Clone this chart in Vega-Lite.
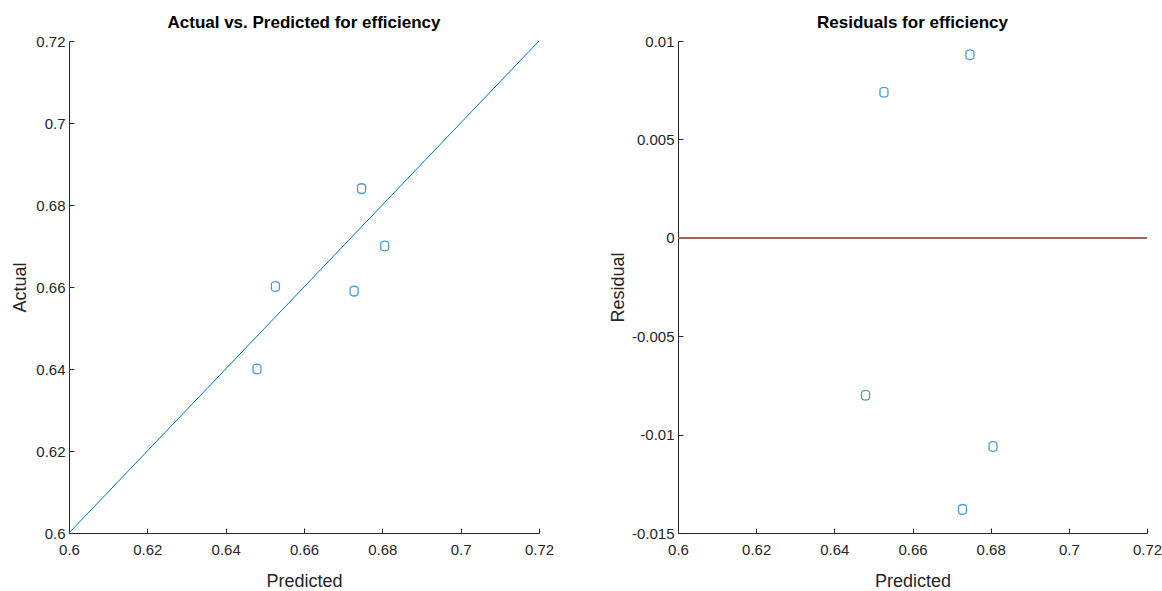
{
  "$schema": "https://vega.github.io/schema/vega-lite/v6.json",
  "background": "white",
  "padding": {"left": 11, "top": 14, "right": 10, "bottom": 5},
  "datasets": {
    "pts": [
      {"predicted": 0.6480, "actual": 0.6400, "residual": -0.0080},
      {"predicted": 0.6527, "actual": 0.6601, "residual": 0.0074},
      {"predicted": 0.6728, "actual": 0.6590, "residual": -0.0138},
      {"predicted": 0.6747, "actual": 0.6840, "residual": 0.0093},
      {"predicted": 0.6806, "actual": 0.6700, "residual": -0.0106}
    ],
    "diag": [
      {"x": 0.6, "y": 0.6},
      {"x": 0.72, "y": 0.72}
    ]
  },
  "config": {
    "view": {"stroke": null},
    "font": "Liberation Sans",
    "axis": {
      "domainColor": "#262626",
      "tickColor": "#262626",
      "labelColor": "#262626",
      "titleColor": "#262626",
      "grid": false,
      "tickSize": -5,
      "labelFontSize": 15,
      "titleFontSize": 18,
      "titleFontWeight": "normal",
      "domainWidth": 1,
      "tickWidth": 1,
      "labelFlush": false,
      "labelOverlap": false,
      "labelExpr": "'' + datum.value"
    },
    "axisX": {"labelPadding": 14, "titlePadding": 15},
    "axisY": {"labelPadding": 9, "titlePadding": 6},
    "title": {"fontSize": 17, "fontWeight": "bold", "color": "#000000", "offset": 2}
  },
  "spacing": 55,
  "hconcat": [
    {
      "width": 470,
      "height": 492,
      "title": "Actual vs. Predicted for efficiency",
      "layer": [
        {
          "data": {"name": "diag"},
          "mark": {"type": "line", "color": "#0072BD", "strokeWidth": 1},
          "encoding": {
            "x": {"field": "x", "type": "quantitative", "scale": {"domain": [0.6, 0.72], "nice": false, "zero": false},
                  "axis": {"title": "Predicted", "values": [0.6, 0.62, 0.64, 0.66, 0.68, 0.7, 0.72]}},
            "y": {"field": "y", "type": "quantitative", "scale": {"domain": [0.6, 0.72], "nice": false, "zero": false},
                  "axis": {"title": "Actual", "values": [0.6, 0.62, 0.64, 0.66, 0.68, 0.7, 0.72]}}
          }
        },
        {
          "data": {"name": "pts"},
          "mark": {"type": "point", "shape": "M-0.8,-0.45 C-0.8,-1.15 0.8,-1.15 0.8,-0.45 L0.8,0.45 C0.8,1.15 -0.8,1.15 -0.8,0.45 Z", "size": 100, "color": "#0072BD", "strokeWidth": 1.3, "filled": false},
          "encoding": {
            "x": {"field": "predicted", "type": "quantitative"},
            "y": {"field": "actual", "type": "quantitative"}
          }
        }
      ]
    },
    {
      "width": 469,
      "height": 492,
      "title": "Residuals for efficiency",
      "layer": [
        {
          "data": {"name": "pts"},
          "mark": {"type": "point", "shape": "M-0.8,-0.45 C-0.8,-1.15 0.8,-1.15 0.8,-0.45 L0.8,0.45 C0.8,1.15 -0.8,1.15 -0.8,0.45 Z", "size": 100, "color": "#0072BD", "strokeWidth": 1.3, "filled": false},
          "encoding": {
            "x": {"field": "predicted", "type": "quantitative", "scale": {"domain": [0.6, 0.72], "nice": false, "zero": false},
                  "axis": {"title": "Predicted", "values": [0.6, 0.62, 0.64, 0.66, 0.68, 0.7, 0.72]}},
            "y": {"field": "residual", "type": "quantitative", "scale": {"domain": [-0.015, 0.01], "nice": false, "zero": false},
                  "axis": {"title": "Residual", "titlePadding": 4, "values": [-0.015, -0.01, -0.005, 0, 0.005, 0.01]}}
          }
        },
        {
          "data": {"name": "pts"},
          "mark": {"type": "rule", "color": "#A0645A", "strokeWidth": 1.5},
          "encoding": {"y": {"datum": 0, "type": "quantitative"}}
        }
      ]
    }
  ]
}
